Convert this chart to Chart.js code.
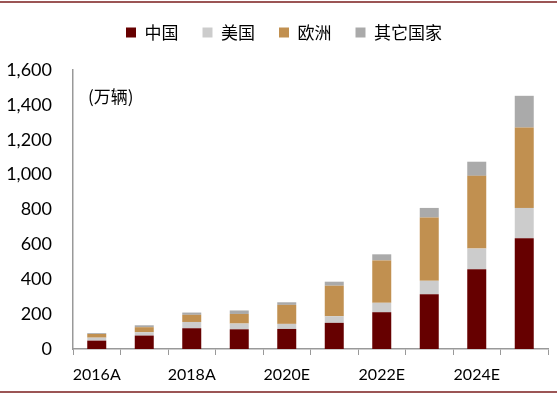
<!DOCTYPE html>
<html>
<head>
<meta charset="utf-8">
<script src="https://cdn.jsdelivr.net/npm/chart.js@4/dist/chart.umd.min.js"></script>
<style>
	html, body { margin: 0; padding: 0; background: #fff; }
	#wrap { width: 557px; height: 394px; position: relative; }
</style>
</head>
<body>
<div id="wrap"><canvas id="evChart"></canvas></div>
<script>
const categories = ['2016A', '2017A', '2018A', '2019A', '2020E', '2021E', '2022E', '2023E', '2024E', '2025E']
const china = [48, 77, 119, 113, 115, 150, 211, 314, 458, 635]
const usa = [17, 19, 36, 33, 29, 38, 54, 77, 118, 174]
const europe = [21, 29, 41, 55, 109, 175, 243, 363, 417, 461]
const others = [5, 11, 13, 20, 15, 23, 35, 55, 81, 182]
const yTicks = [0, 200, 400, 600, 800, 1000, 1200, 1400, 1600]

const cjk = "'Noto Sans CJK SC', sans-serif"
const latin = "Lato, 'Liberation Sans', sans-serif"

// frame lines, unit label, fixed legend height
const decor = {
	id: 'decor',
	beforeLayout(chart) {
		const legend = chart.legend
		if (legend && !legend._fixed) {
			const fit = legend.fit
			legend.fit = function () {
				fit.call(this)
				this.height = 70
			}
			const draw = legend.draw
			legend.draw = function () {
				this.ctx.save()
				this.ctx.translate(10, 0)
				draw.call(this)
				this.ctx.restore()
			}
			legend._fixed = true
		}
	},
	beforeDraw(chart) {
		const ctx = chart.ctx
		ctx.save()
		ctx.fillStyle = '#fff'
		ctx.fillRect(0, 0, chart.width, chart.height)
		ctx.restore()
	},
	afterDraw(chart) {
		const ctx = chart.ctx
		ctx.save()
		ctx.strokeStyle = '#9b5555'
		ctx.lineWidth = 2
		ctx.beginPath()
		ctx.moveTo(0, 2)
		ctx.lineTo(chart.width, 2)
		ctx.moveTo(0, 392)
		ctx.lineTo(chart.width, 392)
		ctx.stroke()
		ctx.fillStyle = '#000'
		ctx.font = '17px ' + cjk
		ctx.textBaseline = 'middle'
		ctx.fillText('(万辆)', 88, 97)
		ctx.restore()
	},
}

new Chart(document.getElementById('evChart').getContext('2d'), {
	type: 'bar',
	data: {
		labels: categories,
		datasets: [
			{ label: '中国', data: china, backgroundColor: '#660000' },
			{ label: '美国', data: usa, backgroundColor: '#cccccc' },
			{ label: '欧洲', data: europe, backgroundColor: '#c19050' },
			{ label: '其它国家', data: others, backgroundColor: '#aaaaaa' },
		],
	},
	options: {
		responsive: true,
		maintainAspectRatio: false,
		animation: false,
		datasets: {
			bar: { barPercentage: 0.4, categoryPercentage: 1 },
		},
		layout: {
			padding: { left: 0, right: 9, top: 0, bottom: 0 },
		},
		plugins: {
			legend: {
				position: 'top',
				labels: {
					boxWidth: 10,
					boxHeight: 10,
					padding: 24,
					color: '#000',
					font: { family: cjk, size: 17 },
				},
			},
			tooltip: { enabled: false },
		},
		scales: {
			x: {
				stacked: true,
				afterFit(scale) { scale.height = 45 },
				grid: {
					display: true,
					offset: true,
					drawOnChartArea: false,
					drawTicks: true,
					tickLength: 6,
					color: '#999',
				},
				border: { display: true, color: '#999', width: 1.5 },
				ticks: {
					autoSkip: false,
					maxRotation: 0,
					padding: 10,
					color: '#000',
					font: { family: latin, size: 16 },
					callback(value, index) {
						return index % 2 === 0 ? categories[index] : ''
					},
				},
			},
			y: {
				stacked: true,
				min: yTicks[0],
				max: yTicks[yTicks.length - 1],
				afterFit(scale) { scale.width = 73 },
				afterBuildTicks(scale) { scale.ticks = yTicks.map(v => ({ value: v })) },
				grid: { display: false, drawTicks: false },
				border: { display: true, color: '#999', width: 1.5 },
				ticks: {
					padding: 21,
					color: '#000',
					font: { family: latin, size: 18 },
					callback(value) { return value.toLocaleString('en-US') },
				},
			},
		},
	},
	plugins: [decor],
})
</script>
</body>
</html>
